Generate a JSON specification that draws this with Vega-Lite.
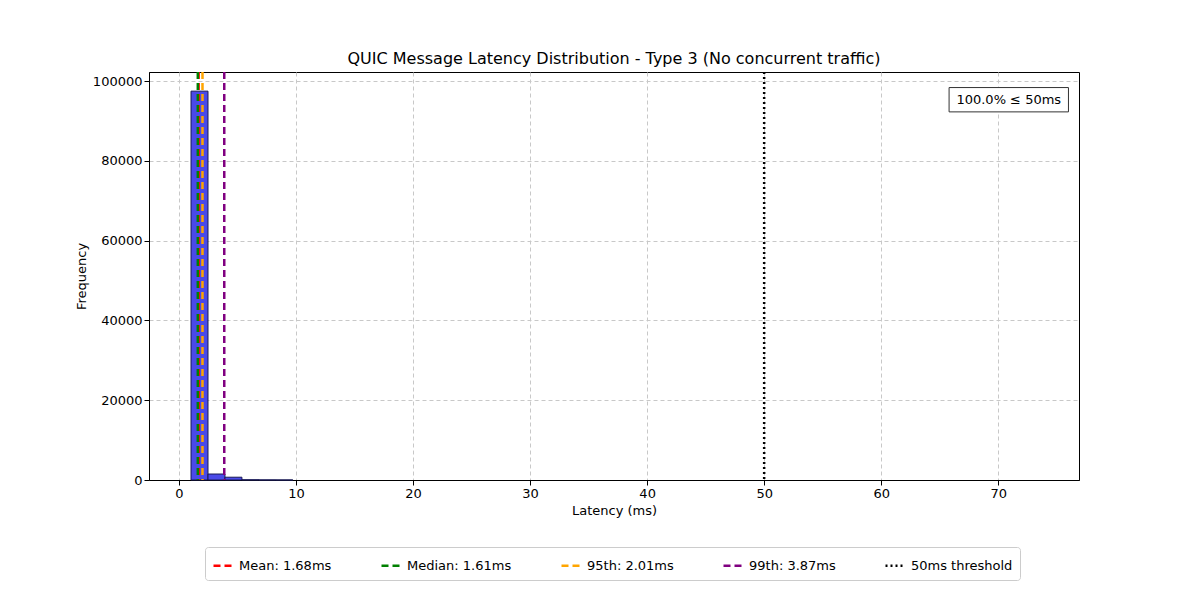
{
  "$schema": "https://vega.github.io/schema/vega-lite/v6.json",
  "width": 930,
  "height": 408,
  "padding": {"left": 75, "top": 50, "right": 100, "bottom": 10},
  "config": {
    "font": "DejaVu Sans",
    "view": {"stroke": "black"},
    "axis": {"grid": true, "gridDash": [4, 3], "gridColor": "#c8c8c8", "labelFontSize": 13, "titleFontSize": 13, "titleFontWeight": "normal", "tickColor": "black", "domainColor": "black", "labelColor": "black"}
  },
  "title": {"text": "QUIC Message Latency Distribution - Type 3 (No concurrent traffic)", "fontSize": 16, "fontWeight": "normal"},
  "datasets": {
    "bins": [
      {"x": 1.03, "x2": 2.48, "count": 97500},
      {"x": 2.48, "x2": 3.93, "count": 1500},
      {"x": 3.93, "x2": 5.38, "count": 700},
      {"x": 5.38, "x2": 6.83, "count": 60},
      {"x": 6.83, "x2": 8.28, "count": 20},
      {"x": 8.28, "x2": 9.73, "count": 8}
    ],
    "lines": [
      {"label": "Mean: 1.68ms", "value": 1.68},
      {"label": "Median: 1.61ms", "value": 1.61},
      {"label": "95th: 2.01ms", "value": 2.01},
      {"label": "99th: 3.87ms", "value": 3.87},
      {"label": "50ms threshold", "value": 50}
    ],
    "note": [{"x": 65.8, "x2": 76, "y": 92300, "y2": 98400, "tx": 70.9, "ty": 95350, "t": "100.0% ≤ 50ms"}]
  },
  "layer": [
    {
      "data": {"name": "bins"},
      "mark": {"type": "rect", "fill": "#4a4ae8", "stroke": "#1a1a55", "strokeWidth": 1},
      "encoding": {
        "x": {"field": "x", "type": "quantitative", "scale": {"domain": [-2.56, 76.9], "nice": false, "zero": false}, "axis": {"values": [0, 10, 20, 30, 40, 50, 60, 70], "title": "Latency (ms)"}},
        "x2": {"field": "x2"},
        "y": {"field": "count", "type": "quantitative", "scale": {"domain": [0, 102300], "nice": false}, "axis": {"values": [0, 20000, 40000, 60000, 80000, 100000], "title": "Frequency", "format": "d"}},
        "y2": {"datum": 0}
      }
    },
    {
      "data": {"name": "lines"},
      "mark": {"type": "rule", "strokeWidth": 2.5},
      "encoding": {
        "x": {"field": "value", "type": "quantitative"},
        "color": {"field": "label", "type": "nominal", "sort": null, "title": null,
          "scale": {"domain": ["Mean: 1.68ms", "Median: 1.61ms", "95th: 2.01ms", "99th: 3.87ms", "50ms threshold"], "range": ["red", "green", "orange", "purple", "black"]},
          "legend": {"orient": "none", "legendX": 56, "legendY": 475, "direction": "horizontal", "columns": 5, "labelFontSize": 13, "symbolType": "stroke", "symbolStrokeWidth": 2.5, "symbolSize": 400, "columnPadding": 44, "padding": 7, "strokeColor": "#cccccc", "fillColor": "white", "cornerRadius": 3}},
        "strokeDash": {"field": "label", "type": "nominal", "sort": null, "title": null,
          "scale": {"domain": ["Mean: 1.68ms", "Median: 1.61ms", "95th: 2.01ms", "99th: 3.87ms", "50ms threshold"], "range": [[7, 4], [7, 4], [7, 4], [7, 4], [2, 3]]}}
      }
    },
    {
      "data": {"name": "note"},
      "mark": {"type": "rect", "fill": "white", "stroke": "#333", "strokeWidth": 1},
      "encoding": {"x": {"field": "x", "type": "quantitative"}, "x2": {"field": "x2"}, "y": {"field": "y", "type": "quantitative"}, "y2": {"field": "y2"}}
    },
    {
      "data": {"name": "note"},
      "mark": {"type": "text", "fontSize": 13, "align": "center", "baseline": "middle"},
      "encoding": {"x": {"field": "tx", "type": "quantitative"}, "y": {"field": "ty", "type": "quantitative"}, "text": {"field": "t"}}
    }
  ]
}
